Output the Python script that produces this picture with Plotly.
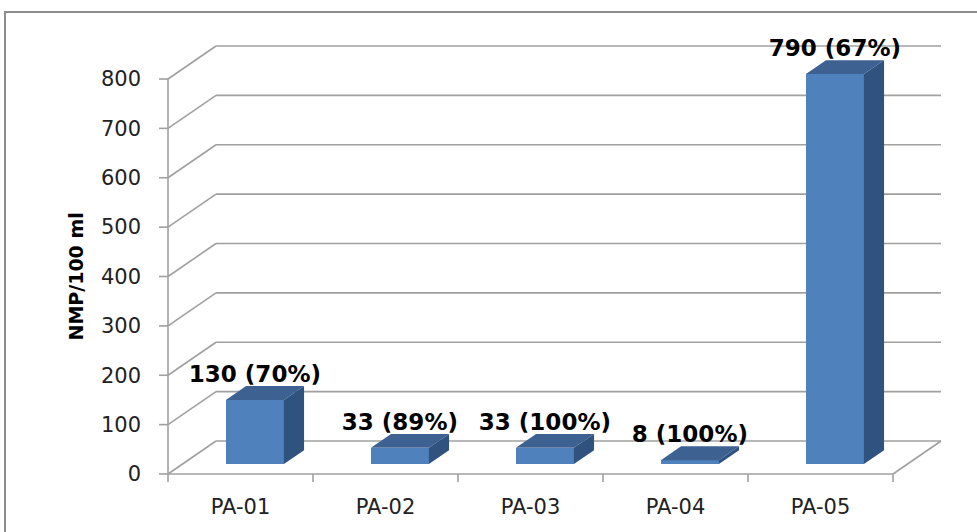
import plotly.graph_objects as go

# --- data ---
sites = ["PA-01", "PA-02", "PA-03", "PA-04", "PA-05"]
nmp = [130, 33, 33, 8, 790]
pct = [70, 89, 100, 100, 67]
y_ticks = [0, 100, 200, 300, 400, 500, 600, 700, 800]
y_title = "NMP/100 ml"

# --- page / plot geometry (pixels) ---
W, H = 977, 532
L, R, T, B = 150, 955, 30, 486          # plot area
X0_PX = 168                             # pixel of x = -0.5 on the front plane
CAT_PX = 145                            # pixels per category
Y0_PX = 474                             # pixel of value 0 on the front plane
VAL_PX = 395 / 800                      # pixels per unit of value

DEPTH_DX, DEPTH_DY = 48 / CAT_PX, 33 / VAL_PX   # full floor depth in data units
D_FRONT, D_BACK = 0.30, 0.72                     # bar depth span (fraction of floor)
BAR_W = 0.4

x_range = [-0.5 - (X0_PX - L) / CAT_PX, -0.5 + (R - X0_PX) / CAT_PX]
y_range = [-(B - Y0_PX) / VAL_PX, (Y0_PX - T) / VAL_PX]

GRID = "#a0a0a0"
FRONT = "#4f81bd"
TOP = "#3d6190"
SIDE = "#30527e"
TEXT = "#222222"

fig = go.Figure()
shapes = []

def line(x0, y0, x1, y1, color=GRID, width=1.6, layer="below"):
    shapes.append(dict(type="line", x0=x0, y0=y0, x1=x1, y1=y1, xref="x", yref="y",
                       line=dict(color=color, width=width), layer=layer))

# back wall gridlines and side-wall diagonals
x_left, x_right = -0.5, len(sites) - 0.5
for v in y_ticks:
    line(x_left + DEPTH_DX, v + DEPTH_DY, x_right + DEPTH_DX, v + DEPTH_DY)
    line(x_left, v, x_left + DEPTH_DX, v + DEPTH_DY)
    # y tick marks
    line(x_left - 9 / CAT_PX, v, x_left, v)

# floor edges and front axis
line(x_left, 0, x_right, 0)
line(x_right, 0, x_right + DEPTH_DX, DEPTH_DY)
line(x_left, 0, x_left, y_ticks[-1])
for k in range(len(sites) + 1):
    line(x_left + k, 0, x_left + k, -8 / VAL_PX)

# bars: front faces
off_x, off_y = D_FRONT * DEPTH_DX, D_FRONT * DEPTH_DY
sdx, sdy = (D_BACK - D_FRONT) * DEPTH_DX, (D_BACK - D_FRONT) * DEPTH_DY
xs = list(range(len(sites)))
fig.add_trace(go.Bar(
    x=[i + off_x for i in xs], y=nmp, base=[off_y] * len(nmp), width=BAR_W,
    marker=dict(color=FRONT, line=dict(width=0)), hoverinfo="skip", showlegend=False,
))

# bars: top and side faces
def poly(pts):
    return "M " + " L ".join(f"{px},{py}" for px, py in pts) + " Z"

for i, v in zip(xs, nmp):
    xl = i - BAR_W / 2 + off_x
    xr = i + BAR_W / 2 + off_x
    yb = off_y
    yt = v + off_y
    shapes.append(dict(type="path", xref="x", yref="y", layer="above",
                       path=poly([(xl, yt), (xr, yt), (xr + sdx, yt + sdy), (xl + sdx, yt + sdy)]),
                       fillcolor=TOP, line=dict(width=0)))
    shapes.append(dict(type="path", xref="x", yref="y", layer="above",
                       path=poly([(xr, yb), (xr, yt), (xr + sdx, yt + sdy), (xr + sdx, yb + sdy)]),
                       fillcolor=SIDE, line=dict(width=0)))

# value labels
fig.add_trace(go.Scatter(
    x=[i + off_x for i in xs],
    y=[v + D_BACK * DEPTH_DY + 10 / VAL_PX for v in nmp],
    text=[f"{v} ({p}%)" for v, p in zip(nmp, pct)],
    mode="text", textposition="middle center", cliponaxis=False,
    textfont=dict(family="DejaVu Sans", size=23, color="#000000", weight="bold"),
    hoverinfo="skip", showlegend=False,
))

# y-axis title, centred on the front value axis
annotations = [dict(
    text=y_title, textangle=-90, xref="paper", yref="y",
    x=(75 - L) / (R - L), y=y_ticks[-1] / 2, xanchor="center", yanchor="middle",
    showarrow=False, font=dict(family="DejaVu Sans", size=19, color="#000000", weight="bold"),
)]

# outer chart border
shapes.append(dict(type="rect", xref="paper", yref="paper",
                   x0=(5 - L) / (R - L), x1=(W + 10 - L) / (R - L),
                   y0=(B - (H + 10)) / (B - T), y1=(B - 12) / (B - T),
                   line=dict(color="#8c8c8c", width=2), layer="below"))

fig.update_layout(
    width=W, height=H,
    margin=dict(l=L, r=W - R, t=T, b=H - B, autoexpand=False),
    paper_bgcolor="white", plot_bgcolor="rgba(0,0,0,0)",
    shapes=shapes, annotations=annotations, bargap=0,
    xaxis=dict(range=x_range, tickvals=xs, ticktext=sites, showgrid=False, zeroline=False,
               showline=False, ticks="", ticklabelstandoff=6, automargin=False,
               tickfont=dict(family="DejaVu Sans", size=21, color=TEXT)),
    yaxis=dict(range=y_range, tickvals=y_ticks, showgrid=False, zeroline=False,
               showline=False, ticks="", ticklabelstandoff=8, automargin=False,
               tickfont=dict(family="DejaVu Sans", size=21, color=TEXT)),
)

fig.write_html("out.html")
